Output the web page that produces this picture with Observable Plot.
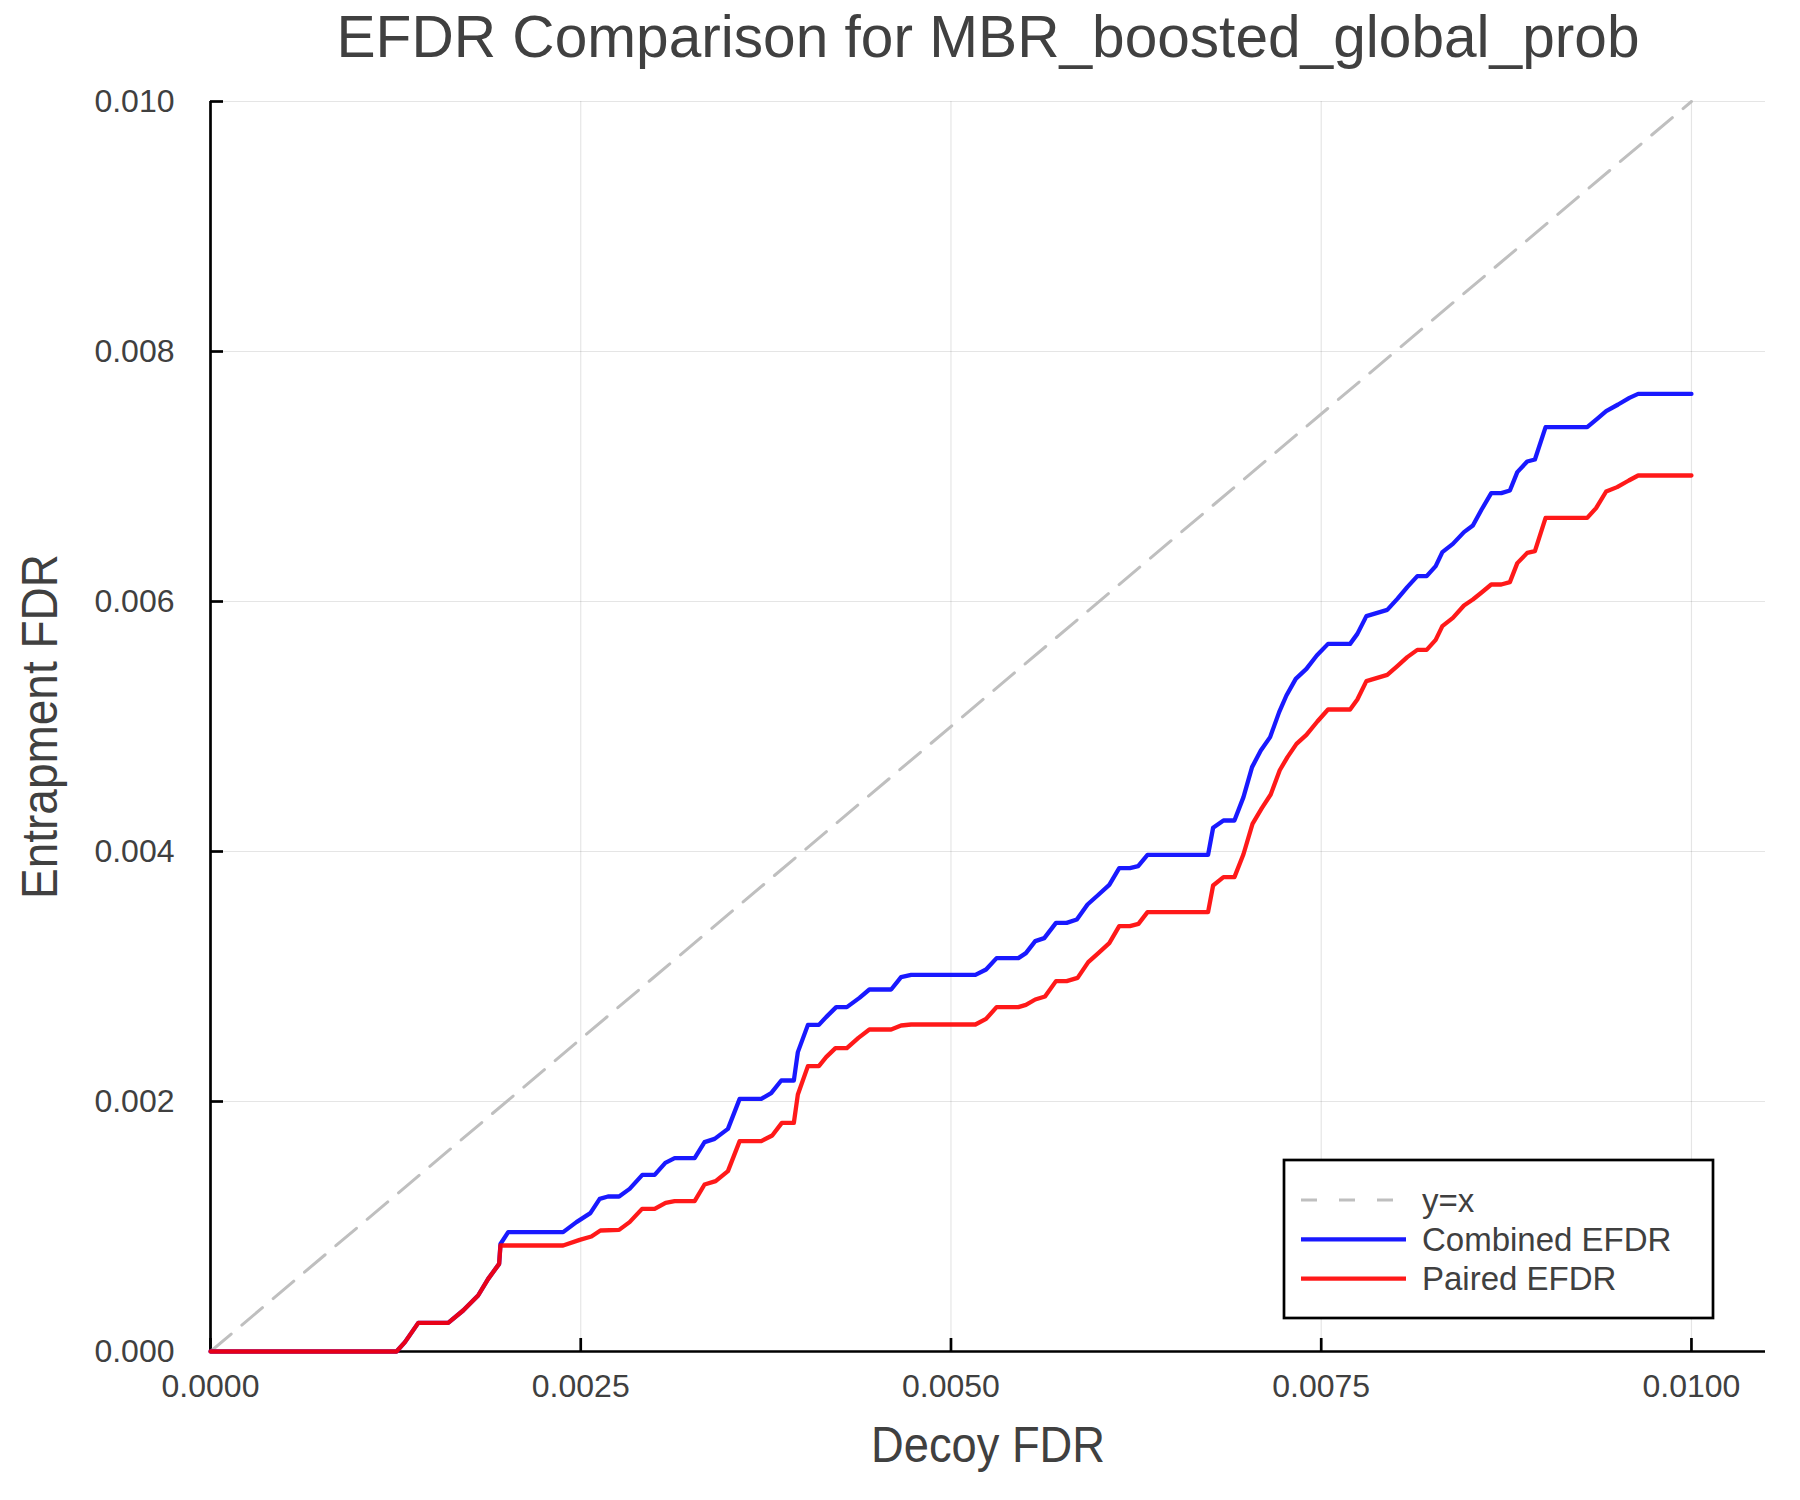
<!DOCTYPE html>
<html><head><meta charset="utf-8">
<script src="https://cdn.jsdelivr.net/npm/d3@7"></script>
<script src="https://cdn.jsdelivr.net/npm/@observablehq/plot@0.6"></script>
<style>body{margin:0;background:#fff}</style>
</head><body><div id="chart"></div>
<script>
const titleText = "EFDR Comparison for MBR_boosted_global_prob";
const xLabel = "Decoy FDR";
const yLabel = "Entrapment FDR";
const xTicks = [0, 0.0025, 0.005, 0.0075, 0.01];
const yTicks = [0, 0.002, 0.004, 0.006, 0.008, 0.01];
const diagX = [0, 0.01];
const diagY = [0, 0.01];
const combinedX = [0,0.001256,0.001313,0.001403,0.001605,0.001706,0.001807,0.001875,0.001949,0.001958,0.002010,0.002381,0.002471,0.002565,0.002628,0.002684,0.002759,0.002830,0.002916,0.002999,0.003071,0.003134,0.003269,0.003336,0.003404,0.003494,0.003573,0.003719,0.003786,0.003854,0.003939,0.003966,0.004034,0.004108,0.004157,0.004225,0.004297,0.004382,0.004449,0.004596,0.004663,0.004731,0.005165,0.005237,0.005308,0.005455,0.005506,0.005569,0.005630,0.005709,0.005781,0.005850,0.005922,0.005990,0.006069,0.006136,0.006208,0.006264,0.006327,0.006736,0.006770,0.006840,0.006914,0.006975,0.007033,0.007092,0.007155,0.007216,0.007265,0.007328,0.007400,0.007470,0.007546,0.007695,0.007744,0.007805,0.007946,0.008014,0.008081,0.008149,0.008212,0.008273,0.008318,0.008389,0.008464,0.008524,0.008583,0.008648,0.008716,0.008774,0.008824,0.008891,0.008943,0.009015,0.009296,0.009363,0.009424,0.009505,0.009581,0.009640,0.010000];
const combinedY = [0,0,0.000075,0.000229,0.000229,0.000328,0.000448,0.000581,0.000701,0.000860,0.000955,0.000955,0.001035,0.001107,0.001221,0.001240,0.001240,0.001301,0.001413,0.001413,0.001509,0.001547,0.001547,0.001675,0.001701,0.001781,0.002021,0.002021,0.002067,0.002168,0.002168,0.002395,0.002613,0.002613,0.002675,0.002755,0.002755,0.002829,0.002896,0.002896,0.002995,0.003013,0.003013,0.003056,0.003147,0.003147,0.003187,0.003283,0.003307,0.003429,0.003429,0.003456,0.003576,0.003648,0.003733,0.003867,0.003867,0.003883,0.003973,0.003973,0.004190,0.004248,0.004248,0.004435,0.004675,0.004808,0.004915,0.005115,0.005248,0.005381,0.005461,0.005568,0.005661,0.005661,0.005741,0.005883,0.005933,0.006021,0.006115,0.006203,0.006203,0.006283,0.006395,0.006461,0.006555,0.006608,0.006736,0.006867,0.006867,0.006888,0.007035,0.007120,0.007136,0.007395,0.007395,0.007461,0.007523,0.007576,0.007629,0.007661,0.007661];
const pairedX = [0,0.001256,0.001313,0.001403,0.001605,0.001706,0.001807,0.001875,0.001949,0.001958,0.002381,0.002493,0.002572,0.002633,0.002759,0.002830,0.002914,0.002999,0.003073,0.003134,0.003269,0.003336,0.003411,0.003494,0.003573,0.003719,0.003793,0.003858,0.003939,0.003966,0.004034,0.004108,0.004157,0.004220,0.004297,0.004375,0.004449,0.004596,0.004663,0.004731,0.005165,0.005237,0.005308,0.005455,0.005506,0.005569,0.005635,0.005709,0.005781,0.005855,0.005927,0.005997,0.006069,0.006136,0.006208,0.006266,0.006327,0.006736,0.006770,0.006840,0.006914,0.006975,0.007036,0.007099,0.007159,0.007220,0.007272,0.007333,0.007400,0.007474,0.007546,0.007695,0.007744,0.007805,0.007946,0.008014,0.008081,0.008149,0.008212,0.008273,0.008318,0.008389,0.008464,0.008524,0.008583,0.008648,0.008716,0.008774,0.008824,0.008891,0.008943,0.009015,0.009296,0.009356,0.009424,0.009498,0.009577,0.009640,0.010000];
const pairedY = [0,0,0.000075,0.000229,0.000229,0.000328,0.000448,0.000581,0.000701,0.000848,0.000848,0.000893,0.000920,0.000968,0.000973,0.001035,0.001141,0.001141,0.001189,0.001203,0.001203,0.001336,0.001363,0.001443,0.001683,0.001683,0.001728,0.001829,0.001829,0.002056,0.002283,0.002283,0.002355,0.002427,0.002427,0.002509,0.002576,0.002576,0.002608,0.002616,0.002616,0.002661,0.002755,0.002755,0.002773,0.002816,0.002840,0.002963,0.002963,0.002989,0.003115,0.003189,0.003267,0.003403,0.003403,0.003421,0.003515,0.003515,0.003728,0.003795,0.003795,0.003978,0.004221,0.004347,0.004456,0.004650,0.004755,0.004861,0.004933,0.005040,0.005136,0.005136,0.005216,0.005363,0.005413,0.005483,0.005555,0.005613,0.005613,0.005693,0.005803,0.005869,0.005968,0.006016,0.006072,0.006136,0.006136,0.006155,0.006307,0.006389,0.006403,0.006669,0.006669,0.006747,0.006880,0.006915,0.006968,0.007008,0.007008];
const seriesNames = ["y=x", "Combined EFDR", "Paired EFDR"];
const seriesColors = ["#bfbfbf", "#0000ff", "#ff0000"];

const W = 1800, H = 1500, mL = 210, mR = 35, mT = 101, mB = 149;
const frameW = W - mL - mR, frameH = H - mT - mB;
const font = "'Liberation Sans', Arial, Helvetica, sans-serif";
const textColor = "#404040";
const lineW = 4.3;
const toRows = (xs, ys) => xs.map((x, i) => ({x, y: ys[i]}));

const chart = Plot.plot({
  width: W, height: H,
  marginLeft: mL, marginRight: mR, marginTop: mT, marginBottom: mB,
  style: {fontFamily: font, color: textColor, background: "#fff", overflow: "visible"},
  x: {domain: [0, 0.0105]},
  y: {domain: [0, 0.01]},
  marks: [
    Plot.gridX(xTicks, {stroke: "#000", strokeOpacity: 0.1, strokeWidth: 1.2}),
    Plot.gridY(yTicks, {stroke: "#000", strokeOpacity: 0.1, strokeWidth: 1.2}),
    Plot.axisX(xTicks, {tickSize: 0, tickPadding: 23, tickFormat: d3.format(".4f"), fontSize: 32, label: null, fill: textColor}),
    Plot.axisY(yTicks, {tickSize: 0, tickPadding: 36, tickFormat: d3.format(".3f"), fontSize: 32, label: null, fill: textColor}),
    Plot.ruleY([0], {stroke: "#000", strokeWidth: 2.7}),
    Plot.ruleX([0], {stroke: "#000", strokeWidth: 2.7}),
    Plot.tickX(xTicks, {x: d => d, stroke: "#000", strokeWidth: 2.7, insetTop: frameH - 13}),
    Plot.tickY(yTicks, {y: d => d, stroke: "#000", strokeWidth: 2.7, insetRight: frameW - 13}),
    Plot.line(toRows(diagX, diagY), {x: "x", y: "y", stroke: seriesColors[0], strokeWidth: 3, strokeDasharray: "27,14"}),
    Plot.line(toRows(combinedX, combinedY), {x: "x", y: "y", stroke: seriesColors[1], strokeWidth: lineW, strokeOpacity: 0.9}),
    Plot.line(toRows(pairedX, pairedY), {x: "x", y: "y", stroke: seriesColors[2], strokeWidth: lineW, strokeOpacity: 0.9}),
    Plot.text([titleText], {text: d => d, frameAnchor: "top", dy: -64, fontSize: 60, lineAnchor: "middle", textAnchor: "middle", fill: textColor}),
    Plot.text([xLabel], {text: d => d, frameAnchor: "bottom", dy: 94, fontSize: 50, lineAnchor: "middle", textAnchor: "middle", fill: textColor}),
    Plot.text([yLabel], {text: d => d, frameAnchor: "left", dx: -170, rotate: -90, fontSize: 50, lineAnchor: "middle", textAnchor: "middle", fill: textColor})
  ]
});
document.getElementById("chart").appendChild(chart);

const svg = d3.select(chart);
// Reference fonts are slightly condensed: fit the title and axis labels to their measured widths.
const fitWidths = new Map([[titleText, 1303], [xLabel, 234], [yLabel, 345]]);
svg.selectAll("text").each(function() {
  const w = fitWidths.get(this.textContent);
  if (w) d3.select(this).attr("textLength", w).attr("lengthAdjust", "spacingAndGlyphs");
});

// Legend box (bottom-right, inside the frame)
const lg = svg.append("g").attr("font-family", font).attr("text-anchor", "start");
lg.append("rect").attr("x", 1284).attr("y", 1160).attr("width", 429).attr("height", 158)
  .attr("fill", "#fff").attr("stroke", "#000").attr("stroke-width", 2.7);
const dashes = ["16,22", null, null];
seriesNames.forEach((name, i) => {
  const yy = 1200 + i * 39.3;
  lg.append("line").attr("x1", 1301).attr("x2", 1406).attr("y1", yy).attr("y2", yy)
    .attr("stroke", seriesColors[i]).attr("stroke-width", i === 0 ? 3 : lineW)
    .attr("stroke-opacity", i === 0 ? 1 : 0.9)
    .attr("stroke-dasharray", dashes[i]);
  lg.append("text").attr("x", 1422).attr("y", yy).attr("dy", "0.36em")
    .attr("text-anchor", "start")
    .attr("font-size", 33).attr("fill", textColor).text(name);
});
</script>
</body></html>
